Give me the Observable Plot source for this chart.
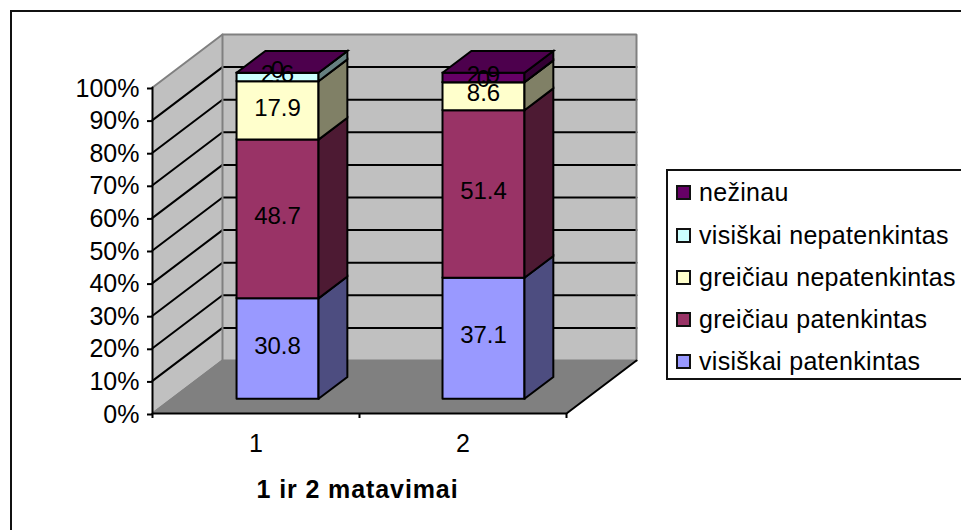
<!DOCTYPE html>
<html>
<head>
<meta charset="utf-8">
<script src="https://cdn.jsdelivr.net/npm/d3@7"></script>
<script src="https://cdn.jsdelivr.net/npm/@observablehq/plot@0.6"></script>
<style>
html,body{margin:0;padding:0;background:#fff;width:961px;height:530px;overflow:hidden;font-family:"Liberation Sans",Arial,sans-serif}
#stage{position:relative;width:961px;height:530px}
#outer{position:absolute;left:10px;top:10px;width:951px;height:520px;border-left:2px solid #111;border-top:2px solid #111;box-sizing:border-box}
#chart{position:absolute;left:0;top:0}
#legend{position:absolute;left:666px;top:169px;width:295px;height:211px;box-sizing:border-box;border:2px solid #111;border-right:none;background:#fff}
#legend .row{position:absolute;left:8px;display:flex;align-items:center;height:30px;white-space:nowrap;font-size:25px;color:#000;letter-spacing:.3px}
#legend .sw{width:11px;height:11px;border:2px solid #111;margin-right:8px;flex:none}
</style>
</head>
<body>
<div id="stage"><div id="outer"></div><div id="chart"></div><div id="legend"></div></div>
<script>
const categories = ["1", "2"];
const seriesNames = ["visiškai patenkintas", "greičiau patenkintas", "greičiau nepatenkintas", "visiškai nepatenkintas", "nežinau"];
const seriesColors = ["#9999FF", "#993366", "#FFFFCC", "#CCFFFF", "#660066"];
const values1 = [30.8, 48.7, 17.9, 2.6, 0];
const values2 = [37.1, 51.4, 8.6, 0, 2.9];
const labels1 = ["30.8", "48.7", "17.9", "2.6", "0"];
const labels2 = ["37.1", "51.4", "8.6", "0", "2.9"];
const yTicks = d3.range(0, 101, 10);
const xAxisTitle = "1 ir 2 matavimai";

// oblique 3D projection expressed in scale units
const DX = 70 / 207, DY = 53 / 3.26;
const P = (u, v, d = 0) => ({x: u + d * DX, y: v + d * DY});
const poly = (id, fill, pts) => pts.map(([u, v, d]) => ({id, fill, ...P(u, v, d)}));
const shade = (c, k) => { const r = d3.rgb(c); return d3.rgb(r.r * k, r.g * k, r.b * k).formatHex(); };

const walls = [
  ...poly("back", "#C0C0C0", [[0,0,1],[2,0,1],[2,100,1],[0,100,1],[0,0,1]]),
  ...poly("left", "#C0C0C0", [[0,0,0],[0,0,1],[0,100,1],[0,100,0],[0,0,0]])
];
const floor = poly("floor", "#808080", [[0,0,0],[2,0,0],[2,0,1],[0,0,1],[0,0,0]]);
const grid = yTicks.slice(1, -1).flatMap(t => poly("g" + t, "none", [[0,t,0],[0,t,1],[2,t,1]]));
const wallEdges = [
  ...poly("e1", "none", [[0,100,0],[0,100,1],[2,100,1],[2,0,1]]),
  ...poly("e2", "none", [[0,100,1],[0,0,1]]),
  ...poly("e3", "none", [[0,0,0],[0,0,1],[2,0,1]])
];

// bar boxes
const D0 = 0.278, D1 = 0.69;
const bars = [{c: 0.51, vals: values1, labs: labels1}, {c: 1.505, vals: values2, labs: labels2}];
const HW = 0.198;
const faces = [], barLabels = [];
bars.forEach((b, bi) => {
  const u0 = b.c - HW, u1 = b.c + HW;
  let cum = 0;
  b.vals.forEach((val, si) => {
    const a = cum, e = cum + val; cum = e;
    const col = seriesColors[si];
    faces.push(...poly(`f${bi}${si}`, col, [[u0,a,D0],[u1,a,D0],[u1,e,D0],[u0,e,D0],[u0,a,D0]]));
    faces.push(...poly(`s${bi}${si}`, shade(col, .5), [[u1,a,D0],[u1,a,D1],[u1,e,D1],[u1,e,D0],[u1,a,D0]]));
    barLabels.push({...P(b.c, (a + e) / 2, D0), t: b.labs[si]});
  });
  const top = cum;
  faces.push(...poly(`t${bi}`, shade(seriesColors[4], .75), [[u0,top,D0],[u1,top,D0],[u1,top,D1],[u0,top,D1],[u0,top,D0]]));
});

const face = (data, opts) => Plot.line(data, {x: "x", y: "y", z: "id", fill: "fill", strokeLinejoin: "miter", strokeMiterlimit: 4, ...opts});
const stroke = (data, opts) => Plot.line(data, {x: "x", y: "y", z: "id", strokeLinejoin: "miter", ...opts});

const chart = Plot.plot({
  width: 961, height: 530,
  marginLeft: 152, marginRight: 395, marginTop: 87, marginBottom: 117,
  x: {domain: [0, 2]}, y: {domain: [0, 100]},
  style: {background: "transparent", overflow: "visible", fontFamily: "'Liberation Sans',Arial,sans-serif", color: "#000"},
  marks: [
    face(walls, {stroke: "none"}),
    stroke(grid, {stroke: "#000", strokeWidth: 2}),
    stroke(wallEdges, {stroke: "#808080", strokeWidth: 2}),
    face(floor, {stroke: "none"}),
    stroke(poly("d", "none", [[0,0,0],[0,0,1]]), {stroke: "#808080", strokeWidth: 2}),
    stroke(poly("r", "none", [[2,0,1],[2,0,0],[0,0,0],[0,100,0]]), {stroke: "#000", strokeWidth: 2}),
    face(faces, {stroke: "#000", strokeWidth: 2}),
    Plot.axisY({ticks: yTicks, tickFormat: d => d + "%", label: null, tickSize: 5, tickPadding: 8, fontSize: 25, strokeWidth: 2, dy: 1}),
    Plot.axisX({ticks: [0, 1, 2], tickFormat: () => "", label: null, tickSize: 5, strokeWidth: 2}),
    Plot.text(categories, {x: (d, i) => i + 0.5, y: () => 0, dy: 30, text: d => d, fontSize: 25}),
    Plot.text([xAxisTitle], {x: () => 1, y: () => 0, dy: 76, dx: -2, text: d => d, fontSize: 25, fontWeight: "bold", className: "axis-title"}),
    Plot.text(barLabels, {x: "x", y: "y", text: "t", dy: -2.5, fontSize: 24, fill: "#000"})
  ]
});
document.getElementById("chart").append(chart);
const st = document.createElement("style");
st.textContent = ".axis-title text,text.axis-title,g.axis-title{letter-spacing:.9px}";
document.head.append(st);

const legend = document.getElementById("legend");
const rowTops = [6, 49, 91, 133, 175];
seriesNames.map((n, i) => [n, seriesColors[i]]).reverse().forEach(([n, c], i) => {
  const r = document.createElement("div"); r.className = "row"; r.style.top = rowTops[i] + "px";
  const s = document.createElement("span"); s.className = "sw"; s.style.background = c;
  const t = document.createElement("span"); t.textContent = n;
  r.append(s, t); legend.append(r);
});
</script>
</body>
</html>
